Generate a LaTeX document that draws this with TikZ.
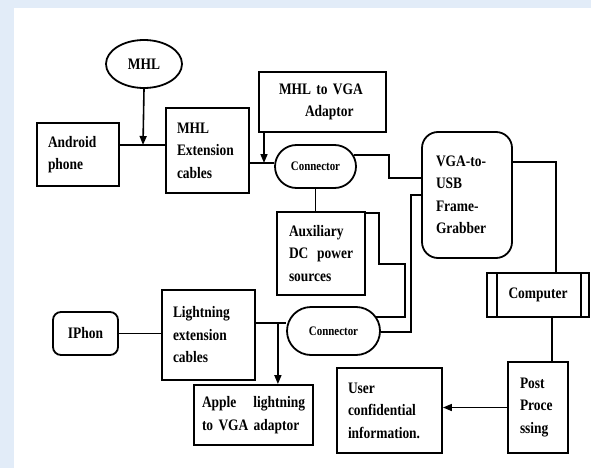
\documentclass[tikz,border=0pt]{standalone}
\usepackage{fontspec}
\setmainfont{Liberation Serif}[FakeStretch=0.84]
\usepackage{tikz}
\usetikzlibrary{shapes,arrows.meta,positioning,calc}
\definecolor{bgblue}{RGB}{226,236,248}
\tikzset{
  blk/.style={draw, line width=1.8pt, align=left, inner xsep=11pt, inner ysep=0pt,
    font=\fontsize{16}{22.5}\selectfont\bfseries},
  ovalbox/.style={draw, line width=1.8pt, rounded corners=21.5pt, minimum width=81pt,
    minimum height=43pt, font=\fontsize{13}{14}\selectfont\bfseries},
  wire/.style={line width=1.6pt},
  arr/.style={line width=1.6pt, -{Triangle[length=9pt,width=7pt]}}
}
\begin{document}
\begin{tikzpicture}[x=1pt,y=-1pt]
        \useasboundingbox (0,0) rectangle (591,468);
        \fill[bgblue] (0,0) rectangle (591,468);
        \fill[white] (14,8) rectangle (591,468);

        % Android side
        \node[draw, ellipse, line width=1.8pt, minimum width=76pt, minimum height=48pt,
          font=\fontsize{16}{18}\selectfont\bfseries] (mhl) at (144,64) {MHL};
        \node[blk, text width=60pt, minimum height=63pt] (android) at (78,154.5) {Android\\phone};
        \node[blk, text width=61pt, minimum height=85pt] (mhlext) at (207.5,150.5) {MHL\\Extension\\cables};
        \node[blk, inner xsep=20pt, text width=87pt, minimum height=60pt] (adaptor) at (322.5,102)
          {MHL to VGA\\\hspace*{26pt}Adaptor};
        \node[ovalbox] (con1) at (315.5,166.5) {Connector};
        \node[blk, inner xsep=12pt, text width=64pt, minimum height=83pt] (aux) at (321,253.5)
          {Auxiliary\\DC\hfill power\\sources};

        % Frame grabber and computer
        \node[blk, rounded corners=16pt, inner xsep=14pt, text width=62pt, minimum height=126pt] (vga)
          at (467,195) {VGA-to-\\USB\\Frame-\\Grabber};
        \node[blk, minimum width=102pt, minimum height=44pt, align=center] (comp) at (538,295) {Computer};
        \node[blk, inner xsep=12pt, text width=36pt, minimum height=91pt] (post) at (538,407.5)
          {Post\\Proce\\ssing};
        \node[blk, text width=83pt, minimum height=85pt] (user) at (389.5,410.5)
          {User\\confidential\\information.};

        % iPhone side
        \node[blk, rounded corners=8pt, inner xsep=13pt, minimum width=65pt, minimum height=43pt] (iphon)
          at (85.5,333.5) {IPhon};
        \node[blk, text width=71pt, minimum height=90pt] (light) at (208.5,335) {Lightning\\extension\\cables};
        \node[ovalbox, minimum width=93pt, minimum height=48pt, rounded corners=24pt] (con2) at (333.5,331) {Connector};
        \node[blk, inner xsep=8pt, text width=103pt, minimum height=60pt] (apple) at (253.5,415)
          {Apple\hfill lightning\\to VGA adaptor};

        % connectors
        \coordinate (j1) at (143,145);
        \draw[wire] (android.east |- j1) -- (mhlext.west |- j1);
        \draw[arr] (mhl.south) -- (j1);
        \coordinate (j2) at (264,163);
        \draw[wire] (mhlext.east |- j2) -- (con1.west |- j2);
        \draw[arr] (adaptor.south -| j2) -- (j2);
        \draw[wire] ($(con1.east)+(-3,-11.5)$) -- ++(35,0) |- ($(vga.west)+(0,-17)$);
        \draw[wire] (con1.south) -- (con1.south |- aux.north);
        \draw[wire] ($(aux.north east)+(0,2)$) -- ++(13,0) -- ++(0,51) -- ++(26,0)
          |- ($(con2.east)+(-4.5,-14)$);
        \draw[wire] (vga.west) -- ++(-10,0) |- ($(con2.east)+(0,1)$);
        \draw[wire] ($(vga.east)+(0,-33)$) -| ($(comp.north)+(18,0)$);
        \draw[wire] ($(comp.north west)+(11,0)$) -- ($(comp.south west)+(11,0)$);
        \draw[wire] ($(comp.north east)+(-9,0)$) -- ($(comp.south east)+(-9,0)$);
        \draw[wire] ($(comp.south)+(14,0)$) -- ($(post.north)+(14,0)$);
        \draw[arr] (post.west) -- (post.west -| user.east);

        \draw[wire] (iphon.east) -- (light.west |- iphon.east);
        \coordinate (j3) at ($(light.east)+(22,-12)$);
        \draw[wire] ($(light.east)+(0,-12)$) -- (con2.west |- j3);
        \draw[arr] (j3) -- (j3 |- apple.north);
\end{tikzpicture}
\end{document}
